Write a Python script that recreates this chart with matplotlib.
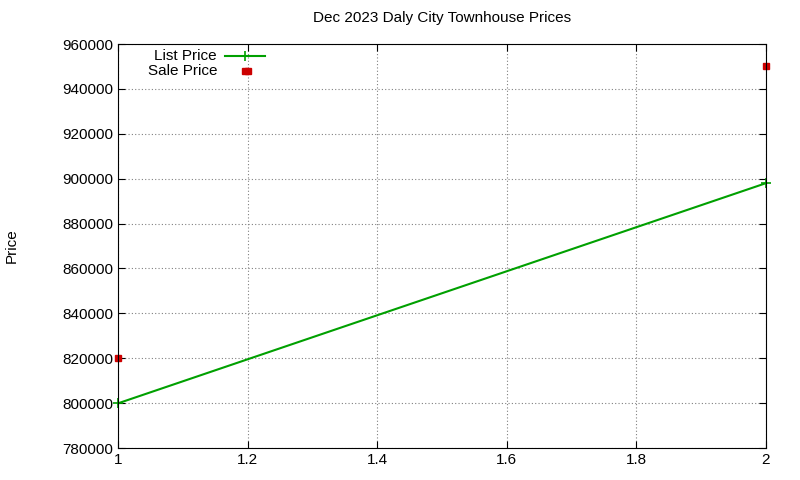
import matplotlib
matplotlib.use("Agg")
import matplotlib.pyplot as plt
from matplotlib.lines import Line2D

list_x = [1, 2]
list_price = [799900, 898000]
sale_x = [1, 1.2, 2]
sale_price = [820000, 948000, 950000]
title = "Dec 2023 Daly City Townhouse Prices"

plt.rcParams['font.family'] = ['Liberation Sans', 'DejaVu Sans']
fig = plt.figure(figsize=(8, 4.8), dpi=100)
ax = fig.add_axes([118/800, 1-448/480, (766-118)/800, (448-44)/480])
ax.plot(list_x, list_price, color='#00a000', lw=1.5, marker='+', ms=7, mew=1.2, clip_on=False)
ax.plot(sale_x, sale_price, ls='none', marker='s', color='#cc0000', ms=5, clip_on=False)
ax.set_xlim(1, 2)
ax.set_ylim(780000, 960000)
ax.set_xticks([1, 1.2, 1.4, 1.6, 1.8, 2])
ax.set_xticklabels(['1', '1.2', '1.4', '1.6', '1.8', '2'])
ax.set_yticks(range(780000, 960001, 20000))
ax.tick_params(direction='in', top=True, right=True, labelsize=11, length=5)
ax.grid(True, ls=(0, (1, 2)), color='#808080', lw=0.8)
fig.text(12/800, 1-246/480, 'Price', rotation=90, ha='center', va='center', fontsize=11)
ax.set_title(title, fontsize=11, pad=16)
for s in ax.spines.values():
    s.set_linewidth(0.8)

def px(x, y):
    return ((x-118)/648, (448-y)/404)
t = ax.transAxes
ax.text(*px(217, 56), 'List Price', transform=t, ha='right', va='center', fontsize=11)
ax.add_line(Line2D([px(225,56)[0], px(265,56)[0]], [px(225,56)[1]]*2, transform=t, color='#00a000', lw=1.5))
ax.plot([px(245,56)[0]], [px(245,56)[1]], transform=t, marker='+', color='#00a000', ms=7, mew=1.2)
ax.text(*px(217, 71), 'Sale Price', transform=t, ha='right', va='center', fontsize=11)
ax.plot([px(245,71)[0]], [px(245,71)[1]], transform=t, marker='s', color='#cc0000', ms=5)
fig.savefig('out.png')
